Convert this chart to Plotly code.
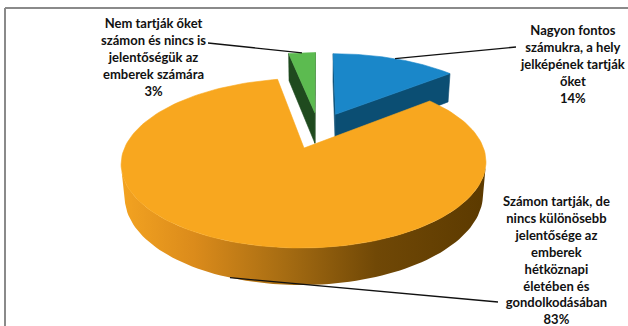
import numpy as np
import plotly.graph_objects as go

# ---------------- data ----------------
categories = [
    "Nagyon fontos számukra, a hely jelképének tartják őket",
    "Számon tartják, de nincs különösebb jelentősége az emberek hétköznapi életében és gondolkodásában",
    "Nem tartják őket számon és nincs is jelentőségük az emberek számára",
]
label_lines = [
    ["Nagyon fontos", "számukra, a hely", "jelképének tartják", "őket"],
    ["Számon tartják, de", "nincs különösebb", "jelentősége az", "emberek",
     "hétköznapi", "életében és", "gondolkodásában"],
    ["Nem tartják őket", "számon és nincs is", "jelentőségük az", "emberek számára"],
]
values = [14, 83, 3]

# ---------------- style ----------------
top_colors = ["#1A87C9", "#F8A71F", "#5CBB50"]
side_colors = ["#0B4E73", "#A86C12", "#1F4A1E"]
side_gradients = [
    None,
    [[0.0, "#F3A321"], [0.2, "#DB8B1B"], [0.45, "#A66C12"], [0.7, "#704806"], [1.0, "#5C3A00"]],
    None,
]
explode = [0.24, 0.24, 0.24]
leader_anchor_on_bottom = [False, True, False]
# label block centre, leader elbow, leader end (screen px)
label_pos = [(572, 63.5), (556, 259.5), (153, 57)]
leader_elbow = [(510, 47), (492, 302), (214, 43)]
leader_end = [(516, 47), (498, 302), (208, 43)]

W, H = 628, 326

# ---------------- 3-D pie projection ----------------
SIN_E = 0.44
COS_E = np.sqrt(1 - SIN_E ** 2)
DIST = 5.25
FOCAL = 906.0
CX, CY = 318.6, 130.2
THICK = 0.2066
CAM = np.array([0.0, DIST * SIN_E, -DIST * COS_E])


def project(X, Y, Z):
    X, Y, Z = np.asarray(X, float), np.asarray(Y, float), np.asarray(Z, float)
    depth = DIST + Z * COS_E - Y * SIN_E
    up = Y * COS_E + Z * SIN_E
    return CX + FOCAL * X / depth, CY - FOCAL * up / depth


def faces_camera(px, py, pz, nx, nz):
    return (CAM[0] - px) * nx + (CAM[1] - py) * 0 + (CAM[2] - pz) * nz > 0


total = float(sum(values))
fracs = [v / total for v in values]
starts = np.cumsum([0] + fracs[:-1]) * 2 * np.pi
ends = starts + np.array(fracs) * 2 * np.pi

slices = []
for i in range(len(values)):
    a0, a1 = starts[i], ends[i]
    mid = 0.5 * (a0 + a1)
    ox, oz = explode[i] * np.sin(mid), explode[i] * np.cos(mid)
    slices.append(dict(i=i, a0=a0, a1=a1, mid=mid, ox=ox, oz=oz))

fig = go.Figure()


def poly(xs, ys, color, gradient=None):
    xs = list(xs) + [xs[0]]
    ys = list(ys) + [ys[0]]
    kw = dict(fillcolor=color)
    if gradient is not None:
        kw = dict(fillgradient=dict(type="horizontal", colorscale=gradient))
    fig.add_trace(go.Scatter(
        x=xs, y=ys, mode="lines", fill="toself",
        line=dict(color=color, width=0.6 if gradient is None else 0),
        hoverinfo="skip", showlegend=False, **kw))


# draw the farthest slices first
for s in sorted(slices, key=lambda d: -d["oz"]):
    i, a0, a1, ox, oz = s["i"], s["a0"], s["a1"], s["ox"], s["oz"]
    th = np.linspace(a0, a1, 160)
    ex, ez = ox + np.sin(th), oz + np.cos(th)

    # radial side walls
    for ang, nsign in ((a0, -1), (a1, 1)):
        nx, nz = nsign * np.cos(ang), -nsign * np.sin(ang)
        px, pz = ox + 0.5 * np.sin(ang), oz + 0.5 * np.cos(ang)
        if faces_camera(px, -THICK / 2, pz, nx, nz):
            qx = [ox, ox + np.sin(ang), ox + np.sin(ang), ox]
            qz = [oz, oz + np.cos(ang), oz + np.cos(ang), oz]
            qy = [0, 0, -THICK, -THICK]
            sx, sy = project(qx, qy, qz)
            poly(sx, sy, side_colors[i])

    # outer curved wall, only where it faces the viewer
    vis = faces_camera(ex, -THICK / 2, ez, np.sin(th), np.cos(th))
    if vis.any():
        idx = np.where(vis)[0]
        runs = np.split(idx, np.where(np.diff(idx) > 1)[0] + 1)
        for r in runs:
            if len(r) < 2:
                continue
            tx, ty = project(ex[r], np.zeros(len(r)), ez[r])
            bx, by = project(ex[r], -THICK * np.ones(len(r)), ez[r])
            poly(np.concatenate([tx, bx[::-1]]), np.concatenate([ty, by[::-1]]),
                 side_colors[i], side_gradients[i])

    # top face
    tx, ty = project(np.concatenate([[ox], ex]), np.zeros(len(ex) + 1),
                     np.concatenate([[oz], ez]))
    poly(tx, ty, top_colors[i])

# ---------------- leader lines ----------------
for s in slices:
    i, mid, ox, oz = s["i"], s["mid"], s["ox"], s["oz"]
    yy = -THICK if leader_anchor_on_bottom[i] else 0.0
    axp, ayp = project(ox + np.sin(mid), yy, oz + np.cos(mid))
    fig.add_trace(go.Scatter(
        x=[float(axp), leader_elbow[i][0], leader_end[i][0]],
        y=[float(ayp), leader_elbow[i][1], leader_end[i][1]],
        mode="lines", line=dict(color="#111111", width=1.3),
        hoverinfo="skip", showlegend=False))

# ---------------- data labels ----------------
annotations = []
for i, lines in enumerate(label_lines):
    pct = f"{round(values[i] / total * 100)}%"
    annotations.append(dict(
        x=label_pos[i][0], y=label_pos[i][1], xref="x", yref="y",
        text="<b>" + "<br>".join(lines + [pct]) + "</b>",
        showarrow=False, align="center", xanchor="center", yanchor="middle",
        font=dict(family="Lato", size=13, color="#111111"),
    ))

# chart-area frame (left and top edges)
shapes = [
    dict(type="line", xref="x", yref="y", x0=5, y0=H, x1=5, y1=8,
         line=dict(color="#8A8A8A", width=2)),
    dict(type="line", xref="x", yref="y", x0=5, y0=8, x1=W, y1=8,
         line=dict(color="#8A8A8A", width=2)),
]

fig.update_layout(
    width=W, height=H,
    margin=dict(l=0, r=0, t=0, b=0),
    paper_bgcolor="white", plot_bgcolor="white",
    xaxis=dict(range=[0, W], visible=False, fixedrange=True),
    yaxis=dict(range=[H, 0], visible=False, fixedrange=True),
    annotations=annotations, shapes=shapes,
    showlegend=False,
)

fig.write_html("out.html")
